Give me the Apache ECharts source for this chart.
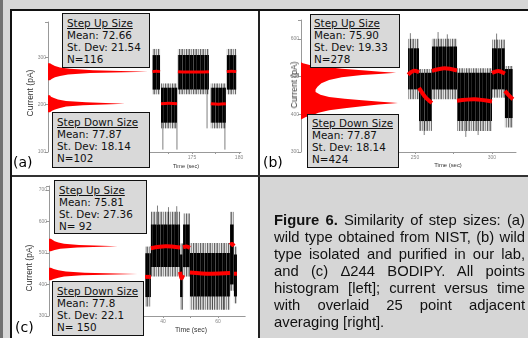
<!DOCTYPE html>
<html><head><meta charset="utf-8">
<script src="https://cdn.jsdelivr.net/npm/echarts@6/dist/echarts.min.js"></script>
<style>
html,body{margin:0;padding:0;width:528px;height:338px;overflow:hidden;background:#d6d6d6;position:relative;}
.abs{position:absolute;}
.box{position:absolute;background:#d9d9d9;border:1px solid #111;font-family:"DejaVu Sans",sans-serif;font-size:10.4px;line-height:12px;color:#111;box-sizing:border-box;padding-left:4px;white-space:nowrap;z-index:5;}
.lbl{position:absolute;font-family:"DejaVu Sans",sans-serif;font-size:14px;line-height:16px;color:#000;z-index:5;}
.ytitle{position:absolute;font-family:"Liberation Sans",Arial,sans-serif;font-size:8.5px;color:#333;white-space:nowrap;transform:translate(-50%,-50%) rotate(-90deg);z-index:5;}
.xtitle{position:absolute;font-family:"Liberation Sans",Arial,sans-serif;color:#333;white-space:nowrap;transform:translate(-50%,-50%);z-index:5;}
#chart{position:absolute;left:0;top:0;width:528px;height:338px;z-index:2;}
#cap{position:absolute;left:274px;top:212px;width:251px;font-family:"Liberation Sans",Arial,sans-serif;font-size:14.8px;line-height:17px;text-align:justify;color:#111;z-index:5;}
</style></head>
<body>
<div class="abs" style="left:0;top:0;width:3px;height:338px;background:#707070"></div>
<div class="abs" style="left:12px;top:11px;width:246px;height:164px;background:#fff"></div>
<div class="abs" style="left:260px;top:11px;width:268px;height:164px;background:#fff"></div>
<div class="abs" style="left:12px;top:177px;width:246px;height:161px;background:#fff"></div>
<div class="abs" style="left:10px;top:9px;width:518px;height:2px;background:#111"></div>
<div class="abs" style="left:10px;top:9px;width:2px;height:329px;background:#111"></div>
<div class="abs" style="left:258px;top:11px;width:2px;height:327px;background:#222"></div>
<div class="abs" style="left:12px;top:175px;width:516px;height:2px;background:#333"></div>
<div id="chart"></div>

<div class="box" style="left:62px;top:13px;width:88px;height:55px;padding-top:3px"><u>Step Up Size</u><br>Mean: 72.66<br>St. Dev: 21.54<br>N=116</div>
<div class="box" style="left:52px;top:112px;width:98px;height:56px;padding-top:3px"><u>Step Down Size</u><br>Mean: 77.87<br>St. Dev: 18.14<br>N=102</div>
<div class="box" style="left:310px;top:14px;width:90px;height:54px;padding-top:2px;padding-left:3px"><u>Step Up Size</u><br>Mean: 75.90<br>St. Dev: 19.33<br>N=278</div>
<div class="box" style="left:307px;top:114px;width:92px;height:54px;padding-top:2px"><u>Step Down Size</u><br>Mean: 77.87<br>St. Dev: 18.14<br>N=424</div>
<div class="box" style="left:54px;top:180px;width:93px;height:54px;padding-top:3px"><u>Step Up Size</u><br>Mean: 75.81<br>St. Dev: 27.36<br>N= 92</div>
<div class="box" style="left:52px;top:281px;width:92px;height:55px;padding-top:3px"><u>Step Down Size</u><br>Mean: 77.8<br>St. Dev: 22.1<br>N= 150</div>

<div class="lbl" style="left:13px;top:154px">(a)</div>
<div class="lbl" style="left:263px;top:154px">(b)</div>
<div class="lbl" style="left:15px;top:319px">(c)</div>

<div class="ytitle" style="left:30px;top:93px">Current (pA)</div>
<div class="ytitle" style="left:294px;top:85px">Current (pA)</div>
<div class="ytitle" style="left:29px;top:268px">Current (pA)</div>
<div class="xtitle" style="left:186px;top:166px;font-size:5.6px">Time (sec)</div>
<div class="xtitle" style="left:448px;top:165px;font-size:5.9px">Time (sec)</div>
<div class="xtitle" style="left:191px;top:329px;font-size:6.8px">Time (sec)</div>

<div id="cap"><b>Figure 6.</b> Similarity of step sizes: (a) wild type obtained from NIST, (b) wild type isolated and purified in our lab, and (c) Δ244 BODIPY. All points histogram [left]; current versus time with overlaid 25 point adjacent averaging [right].</div>

<script>
// ---------- Panel (a) ----------
const aCurrentTicks = [100, 200, 300];
const aTimeTicks = [175, 180];
const aHistUpI = [252, 255, 258, 261, 264, 267, 270, 273, 276, 279, 282, 285, 288];
const aHistUpN = [2, 4, 7, 12, 20, 42, 100, 45, 22, 12, 7, 4, 2];
const aHistDnI = [184, 187, 190, 193, 196, 199, 202, 205, 208, 211, 214, 217, 220];
const aHistDnN = [2, 4, 7, 12, 18, 35, 77, 38, 18, 10, 6, 3, 2];
const aSegStart = [170.8, 171.7, 173.5, 177.0, 178.7];
const aSegEnd   = [171.6, 173.4, 176.8, 178.6, 179.7];
const aSegLow   = [232, 162, 232, 162, 232];
const aSegHigh  = [305, 236, 305, 236, 305];
const aSegMin   = [222, 150, 222, 150, 222];
const aSegMax   = [318, 245, 318, 245, 318];
const aRedStart = [270, 202, 270, 202, 270];
const aRedMid   = [271, 203, 269, 201, 271];
const aRedEnd   = [270, 202, 270, 202, 270];
const aSpikeT    = [171.9, 173.4, 176.6, 178.5];
const aSpikeLow  = [105, 105, 150, 105];
const aSpikeHigh = [236, 236, 305, 236];

// ---------- Panel (b) ----------
const bCurrentTicks = [300, 400, 500, 600];
const bTimeTicks = [250, 300];
const bHistI = [538, 535, 530, 526, 521, 517, 513, 510, 507, 504, 498, 491, 482, 473, 466, 459, 452, 446, 441, 437, 433, 430, 426, 421, 416, 411, 404, 397, 393, 389, 386];
const bHistN = [0, 2, 10, 25, 42, 63, 82, 98, 80, 63, 42, 29, 21, 17, 15, 15, 20, 29, 45, 63, 82, 100, 80, 63, 45, 29, 18, 11, 5, 2, 0];
const bSegStart = [245.5, 252.6, 261.0, 277.3, 300.0, 308.4];
const bSegEnd   = [252.6, 261.0, 277.3, 300.0, 308.4, 313.6];
const bSegLow   = [466, 382, 466, 382, 466, 390];
const bSegHigh  = [575, 510, 580, 510, 575, 520];
const bSegMin   = [440, 356, 440, 356, 444, 365];
const bSegMax   = [600, 520, 600, 522, 598, 528];
const bRedStart = [505, 470, 515, 436, 510, 462];
const bRedMid   = [515, 445, 522, 440, 515, 450];
const bRedEnd   = [512, 430, 516, 434, 508, 440];
const bSpikeT    = [247, 256, 265, 271, 283, 291, 303];
const bSpikeLow  = [575, 345, 580, 580, 340, 345, 575];
const bSpikeHigh = [615, 382, 618, 612, 382, 382, 614];

// ---------- Panel (c) ----------
const cCurrentTicks = [300, 400, 500, 600, 700];
const cTimeTicks = [40, 60];
const cHistUpI = [505, 509, 513, 517, 521, 525, 529, 533, 537, 541, 545];
const cHistUpN = [2, 6, 12, 30, 73, 32, 16, 10, 6, 4, 2];
const cHistDnI = [413, 417, 421, 425, 429, 433, 437, 441, 445, 449, 453];
const cHistDnN = [2, 5, 10, 16, 35, 94, 38, 18, 10, 5, 2];
const cSegStart = [33.5, 35.6, 46.2, 47.3, 49.8, 64.4, 65.8];
const cSegEnd   = [35.6, 46.2, 47.3, 49.8, 64.4, 65.8, 66.9];
const cSegLow   = [360, 455, 360, 455, 362, 400, 362];
const cSegHigh  = [499, 590, 495, 590, 500, 590, 495];
const cSegMin   = [330, 425, 320, 425, 320, 380, 340];
const cSegMax   = [520, 630, 530, 625, 531, 630, 520];
const cRedStart = [424, 515, 440, 518, 438, 525, 434];
const cRedMid   = [424, 521, 420, 520, 434, 528, 434];
const cRedEnd   = [424, 517, 430, 516, 436, 522, 434];
const cSpikeT    = [38, 42, 45, 53, 58, 62];
const cSpikeLow  = [590, 590, 590, 320, 320, 320];
const cSpikeHigh = [650, 645, 648, 362, 362, 362];

// vertical-stripe textures imitating the noisy trace
function stripes(cols) {
  const cv = document.createElement('canvas');
  cv.width = cols.length; cv.height = 1;
  const ctx = cv.getContext('2d');
  cols.forEach((c, i) => { ctx.fillStyle = c; ctx.fillRect(i, 0, 1, 1); });
  return {image: cv, repeat: 'repeat'};
}
const denseFill = stripes(['#000', '#000', '#333', '#000', '#0a0a0a', '#000', '#4a4a4a', '#000', '#000', '#222', '#000']);
const fringeFill = stripes(['rgba(0,0,0,0.55)', 'rgba(0,0,0,0.15)', 'rgba(0,0,0,0.4)', 'rgba(0,0,0,0.1)', 'rgba(0,0,0,0.6)', 'rgba(0,0,0,0.2)', 'rgba(0,0,0,0.35)']);

const chart = echarts.init(document.getElementById('chart'), null, {renderer: 'canvas', width: 528, height: 338});

const grids = [], xAxes = [], yAxes = [], series = [];
const lblStyle = {fontSize: 5, color: '#888', fontFamily: 'Liberation Sans'};
const axisLineStyle = {lineStyle: {color: '#999', width: 1}};

function histPolygon(gi, I, N) {
  return {
    type: 'custom', xAxisIndex: gi, yAxisIndex: gi, silent: true, clip: false,
    data: I.map((v, j) => [N[j], v]),
    renderItem: (params, api) => {
      if (params.dataIndex !== 0) return null;
      const pts = [api.coord([0, I[0]])];
      for (let j = 0; j < I.length; j++) pts.push(api.coord([N[j], I[j]]));
      pts.push(api.coord([0, I[I.length - 1]]));
      return {type: 'polygon', shape: {points: pts}, style: {fill: '#ff0000'}};
    }
  };
}
function bandSeries(gi, t0, t1, lo, hi, fill) {
  return {
    type: 'custom', xAxisIndex: gi, yAxisIndex: gi, silent: true,
    data: t0.map((t, j) => [t, t1[j], lo[j], hi[j]]),
    encode: {x: [0, 1], y: [2, 3]},
    renderItem: (params, api) => {
      const p0 = api.coord([api.value(0), api.value(3)]);
      const p1 = api.coord([api.value(1), api.value(2)]);
      return {type: 'rect', shape: {x: p0[0], y: p0[1], width: p1[0] - p0[0], height: p1[1] - p0[1]}, style: {fill: fill}};
    }
  };
}
function spikeSeries(gi, T, lo, hi) {
  return {
    type: 'custom', xAxisIndex: gi, yAxisIndex: gi, silent: true,
    data: T.map((t, j) => [t, lo[j], hi[j]]),
    encode: {x: 0, y: [1, 2]},
    renderItem: (params, api) => {
      const p0 = api.coord([api.value(0), api.value(1)]);
      const p1 = api.coord([api.value(0), api.value(2)]);
      return {type: 'line', shape: {x1: p0[0], y1: p0[1], x2: p1[0], y2: p1[1]}, style: {stroke: 'rgba(0,0,0,0.5)', lineWidth: 1}};
    }
  };
}
function redSeries(gi, t0, t1, r0, rm, r1, w) {
  return {
    type: 'custom', xAxisIndex: gi, yAxisIndex: gi, silent: true,
    data: t0.map((t, j) => [t, t1[j], r0[j], rm[j], r1[j]]),
    encode: {x: [0, 1], y: [2, 3, 4]},
    renderItem: (params, api) => {
      const a = api.value(0), b = api.value(1);
      const pts = [api.coord([a, api.value(2)]), api.coord([(a + b) / 2, api.value(3)]), api.coord([b, api.value(4)])];
      return {type: 'polyline', shape: {points: pts, smooth: 0.3}, style: {stroke: '#ff0000', lineWidth: w, fill: null}};
    }
  };
}

function panel(P) {
  const gh = grids.length;
  grids.push({left: P.hist[0], top: P.top, width: P.hist[1], height: P.height});
  xAxes.push({type: 'value', gridIndex: gh, min: 0, max: P.hMax, show: false});
  yAxes.push({type: 'value', gridIndex: gh, min: P.yMin, max: P.yMax, interval: 100,
    axisLine: {show: true, ...axisLineStyle}, axisTick: {show: true, length: 3, lineStyle: {color: '#999'}},
    splitLine: {show: false},
    axisLabel: {...lblStyle, margin: 2, formatter: v => P.yTicks.includes(v) ? String(v) : ''}});
  const gt = grids.length;
  grids.push({left: P.trace[0], top: P.top, width: P.trace[1], height: P.height});
  xAxes.push({type: 'value', gridIndex: gt, min: P.tMin, max: P.tMax, interval: P.tInt,
    axisLine: {show: true, onZero: false, ...axisLineStyle}, axisTick: {show: true, length: 2, lineStyle: {color: '#999'}},
    splitLine: {show: false}, minorTick: {show: false},
    axisLabel: {...lblStyle, margin: 3, showMaxLabel: false, formatter: v => P.tTicks.includes(v) ? String(v) : ''}});
  yAxes.push({type: 'value', gridIndex: gt, min: P.yMin, max: P.yMax, show: false, splitLine: {show: false}});
  P.hists.forEach(h => series.push(histPolygon(gh, h[0], h[1])));
  series.push(bandSeries(gt, P.s.t0, P.s.t1, P.s.min, P.s.max, fringeFill));
  series.push(spikeSeries(gt, P.sp[0], P.sp[1], P.sp[2]));
  series.push(bandSeries(gt, P.s.t0, P.s.t1, P.s.lo, P.s.hi, denseFill));
  series.push(redSeries(gt, P.s.t0, P.s.t1, P.r[0], P.r[1], P.r[2], P.rw));
}

panel({top: 22, height: 130, hist: [48, 102], hMax: 102, trace: [145, 95.9],
  yMin: 100, yMax: 375, yTicks: aCurrentTicks, tMin: 170, tMax: 180.2, tInt: 2.5, tTicks: aTimeTicks,
  hists: [[aHistUpI, aHistUpN], [aHistDnI, aHistDnN]],
  s: {t0: aSegStart, t1: aSegEnd, lo: aSegLow, hi: aSegHigh, min: aSegMin, max: aSegMax},
  sp: [aSpikeT, aSpikeLow, aSpikeHigh], r: [aRedStart, aRedMid, aRedEnd], rw: 3});
panel({top: 20, height: 132, hist: [301, 97], hMax: 100, trace: [376.5, 139.5],
  yMin: 300, yMax: 650, yTicks: bCurrentTicks, tMin: 225, tMax: 315.6, tInt: 25, tTicks: bTimeTicks,
  hists: [[bHistI, bHistN]],
  s: {t0: bSegStart, t1: bSegEnd, lo: bSegLow, hi: bSegHigh, min: bSegMin, max: bSegMax},
  sp: [bSpikeT, bSpikeLow, bSpikeHigh], r: [bRedStart, bRedMid, bRedEnd], rw: 4});
panel({top: 186, height: 130, hist: [49, 94], hMax: 100, trace: [108, 137.2],
  yMin: 300, yMax: 712, yTicks: cCurrentTicks, tMin: 20, tMax: 69.9, tInt: 10, tTicks: cTimeTicks,
  hists: [[cHistUpI, cHistUpN], [cHistDnI, cHistDnN]],
  s: {t0: cSegStart, t1: cSegEnd, lo: cSegLow, hi: cSegHigh, min: cSegMin, max: cSegMax},
  sp: [cSpikeT, cSpikeLow, cSpikeHigh], r: [cRedStart, cRedMid, cRedEnd], rw: 4});

chart.setOption({
  animation: false,
  backgroundColor: 'transparent',
  grid: grids.map(g => ({...g, outerBoundsMode: 'none', containLabel: false})),
  xAxis: xAxes, yAxis: yAxes, series: series
});
</script>
</body></html>
